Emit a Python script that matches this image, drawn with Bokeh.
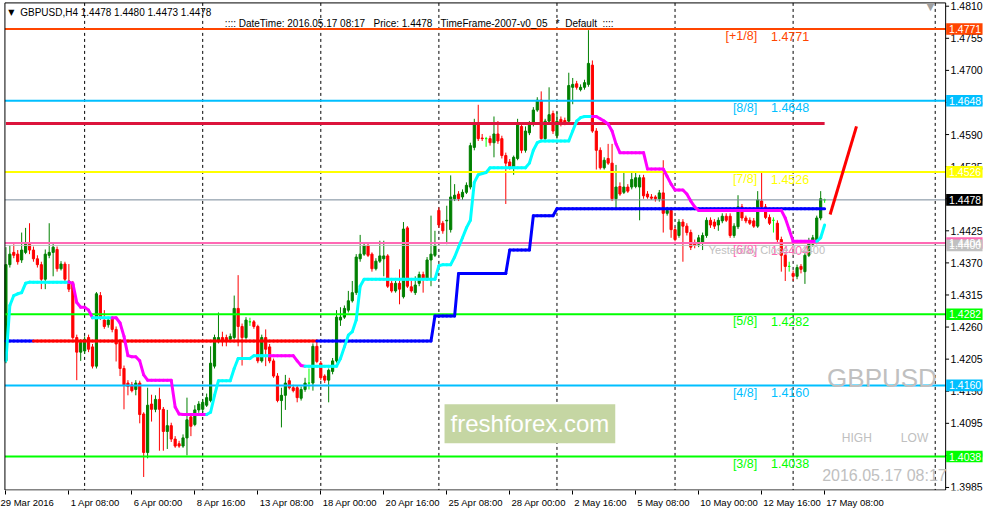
from bokeh.plotting import figure
from bokeh.models import Range1d, FixedTicker, Label
from bokeh.core.properties import value
from bokeh.embed import file_html
from bokeh.resources import INLINE

# ---------------- data ----------------
symbol = "GBPUSD"
timeframe = "H4"
chart_time = "2016.05.17 08:17"

open_ = [
1.4202, 1.4367, 1.4388, 1.4385, 1.4375, 1.4388, 1.4402, 1.4392, 1.4377, 1.4367,
1.4342, 1.4383, 1.4388, 1.4393, 1.4360, 1.4368, 1.4339, 1.4334, 1.4242, 1.4217,
1.4219, 1.4242, 1.4226, 1.4193, 1.4314, 1.4272, 1.4264, 1.4276, 1.4256, 1.4234,
1.4189, 1.4164, 1.4161, 1.4153, 1.4164, 1.4111, 1.4045, 1.4128, 1.4119, 1.4136,
1.4119, 1.4081, 1.4091, 1.4068, 1.4060, 1.4056, 1.4070, 1.4106, 1.4093, 1.4118,
1.4119, 1.4126, 1.4134, 1.4193, 1.4236, 1.4242, 1.4242, 1.4239, 1.4242, 1.4292,
1.4261, 1.4242, 1.4269, 1.4269, 1.4261, 1.4202, 1.4242, 1.4226, 1.4202, 1.4176,
1.4134, 1.4143, 1.4168, 1.4156, 1.4156, 1.4138, 1.4153, 1.4164, 1.4164, 1.4227,
1.4198, 1.4176, 1.4169, 1.4184, 1.4202, 1.4272, 1.4277, 1.4289, 1.4305, 1.4319,
1.4377, 1.4385, 1.4400, 1.4385, 1.4360, 1.4373, 1.4377, 1.4382, 1.4335, 1.4322,
1.4335, 1.4312, 1.4430, 1.4329, 1.4319, 1.4335, 1.4350, 1.4342, 1.4375, 1.4383,
1.4460, 1.4438, 1.4442, 1.4427, 1.4480, 1.4488, 1.4483, 1.4491, 1.4500, 1.4568,
1.4608, 1.4584, 1.4583, 1.4583, 1.4576, 1.4591, 1.4583, 1.4554, 1.4543, 1.4534,
1.4549, 1.4604, 1.4563, 1.4593, 1.4608, 1.4632, 1.4649, 1.4583, 1.4613, 1.4626,
1.4588, 1.4616, 1.4614, 1.4613, 1.4671, 1.4677, 1.4667, 1.4671, 1.4676, 1.4709,
1.4596, 1.4563, 1.4533, 1.4549, 1.4541, 1.4480, 1.4501, 1.4491, 1.4500, 1.4500,
1.4501, 1.4500, 1.4516, 1.4488, 1.4483, 1.4483, 1.4480, 1.4490, 1.4455, 1.4460,
1.4427, 1.4417, 1.4440, 1.4433, 1.4422, 1.4405, 1.4402, 1.4405, 1.4417, 1.4443,
1.4440, 1.4435, 1.4442, 1.4450, 1.4450, 1.4417, 1.4432, 1.4466, 1.4447, 1.4443,
1.4442, 1.4433, 1.4476, 1.4466, 1.4448, 1.4443, 1.4438, 1.4410, 1.4383, 1.4364,
1.4352, 1.4347, 1.4364, 1.4355, 1.4383, 1.4402, 1.4405, 1.4447, 1.4478]

high = [
1.4397, 1.4400, 1.4402, 1.4392, 1.4422, 1.4430, 1.4438, 1.4398, 1.4383, 1.4372,
1.4393, 1.4438, 1.4405, 1.4398, 1.4373, 1.4372, 1.4368, 1.4339, 1.4247, 1.4239,
1.4244, 1.4247, 1.4231, 1.4320, 1.4320, 1.4289, 1.4277, 1.4279, 1.4261, 1.4239,
1.4194, 1.4169, 1.4166, 1.4169, 1.4168, 1.4114, 1.4156, 1.4144, 1.4143, 1.4156,
1.4123, 1.4118, 1.4096, 1.4073, 1.4065, 1.4076, 1.4139, 1.4111, 1.4126, 1.4133,
1.4136, 1.4146, 1.4227, 1.4247, 1.4285, 1.4252, 1.4247, 1.4249, 1.4314, 1.4349,
1.4266, 1.4277, 1.4276, 1.4272, 1.4264, 1.4247, 1.4256, 1.4231, 1.4206, 1.4181,
1.4156, 1.4178, 1.4173, 1.4161, 1.4159, 1.4158, 1.4173, 1.4189, 1.4232, 1.4239,
1.4202, 1.4179, 1.4189, 1.4207, 1.4289, 1.4294, 1.4297, 1.4322, 1.4339, 1.4385,
1.4418, 1.4405, 1.4405, 1.4388, 1.4378, 1.4408, 1.4408, 1.4385, 1.4339, 1.4339,
1.4359, 1.4440, 1.4433, 1.4339, 1.4347, 1.4355, 1.4355, 1.4380, 1.4451, 1.4425,
1.4465, 1.4442, 1.4468, 1.4520, 1.4505, 1.4493, 1.4496, 1.4508, 1.4576, 1.4617,
1.4641, 1.4591, 1.4586, 1.4588, 1.4621, 1.4613, 1.4588, 1.4559, 1.4548, 1.4554,
1.4617, 1.4609, 1.4604, 1.4613, 1.4637, 1.4654, 1.4664, 1.4617, 1.4671, 1.4631,
1.4629, 1.4621, 1.4619, 1.4696, 1.4687, 1.4682, 1.4676, 1.4684, 1.4769, 1.4717,
1.4601, 1.4568, 1.4551, 1.4574, 1.4574, 1.4538, 1.4508, 1.4525, 1.4505, 1.4526,
1.4526, 1.4521, 1.4521, 1.4493, 1.4488, 1.4486, 1.4495, 1.4546, 1.4466, 1.4465,
1.4432, 1.4445, 1.4445, 1.4438, 1.4427, 1.4410, 1.4418, 1.4422, 1.4448, 1.4448,
1.4445, 1.4448, 1.4455, 1.4455, 1.4455, 1.4438, 1.4486, 1.4471, 1.4451, 1.4448,
1.4447, 1.4493, 1.4526, 1.4471, 1.4453, 1.4448, 1.4443, 1.4415, 1.4388, 1.4372,
1.4357, 1.4367, 1.4368, 1.4388, 1.4413, 1.4418, 1.4451, 1.4493, 1.4480]

low = [
1.4198, 1.4362, 1.4378, 1.4367, 1.4370, 1.4385, 1.4385, 1.4372, 1.4362, 1.4325,
1.4325, 1.4378, 1.4347, 1.4355, 1.4357, 1.4337, 1.4320, 1.4239, 1.4169, 1.4202,
1.4214, 1.4217, 1.4189, 1.4189, 1.4272, 1.4257, 1.4259, 1.4251, 1.4201, 1.4176,
1.4119, 1.4143, 1.4148, 1.4143, 1.4095, 1.4003, 1.4035, 1.4098, 1.4114, 1.4048,
1.4048, 1.4051, 1.4063, 1.4053, 1.4053, 1.4053, 1.4040, 1.4073, 1.4090, 1.4113,
1.4114, 1.4123, 1.4131, 1.4189, 1.4232, 1.4227, 1.4227, 1.4236, 1.4239, 1.4227,
1.4194, 1.4239, 1.4262, 1.4257, 1.4198, 1.4199, 1.4193, 1.4198, 1.4173, 1.4131,
1.4088, 1.4118, 1.4153, 1.4148, 1.4131, 1.4134, 1.4149, 1.4153, 1.4151, 1.4198,
1.4169, 1.4164, 1.4131, 1.4179, 1.4199, 1.4262, 1.4274, 1.4285, 1.4302, 1.4315,
1.4372, 1.4382, 1.4380, 1.4355, 1.4357, 1.4370, 1.4347, 1.4327, 1.4319, 1.4319,
1.4299, 1.4309, 1.4327, 1.4319, 1.4315, 1.4330, 1.4319, 1.4339, 1.4330, 1.4380,
1.4430, 1.4420, 1.4402, 1.4422, 1.4476, 1.4476, 1.4478, 1.4488, 1.4496, 1.4563,
1.4579, 1.4579, 1.4569, 1.4571, 1.4551, 1.4574, 1.4549, 1.4471, 1.4530, 1.4521,
1.4546, 1.4558, 1.4559, 1.4589, 1.4604, 1.4629, 1.4579, 1.4579, 1.4609, 1.4591,
1.4583, 1.4604, 1.4606, 1.4609, 1.4642, 1.4667, 1.4664, 1.4667, 1.4672, 1.4593,
1.4530, 1.4530, 1.4530, 1.4538, 1.4476, 1.4463, 1.4485, 1.4488, 1.4490, 1.4496,
1.4498, 1.4443, 1.4480, 1.4480, 1.4478, 1.4475, 1.4475, 1.4422, 1.4451, 1.4413,
1.4407, 1.4413, 1.4372, 1.4417, 1.4392, 1.4395, 1.4397, 1.4392, 1.4413, 1.4430,
1.4428, 1.4425, 1.4438, 1.4440, 1.4413, 1.4413, 1.4428, 1.4442, 1.4438, 1.4435,
1.4430, 1.4430, 1.4463, 1.4445, 1.4435, 1.4422, 1.4405, 1.4355, 1.4339, 1.4355,
1.4339, 1.4342, 1.4352, 1.4334, 1.4380, 1.4398, 1.4402, 1.4443, 1.4473]

close = [
1.4367, 1.4385, 1.4383, 1.4372, 1.4392, 1.4402, 1.4392, 1.4377, 1.4367, 1.4342,
1.4385, 1.4388, 1.4397, 1.4360, 1.4368, 1.4342, 1.4325, 1.4242, 1.4217, 1.4234,
1.4239, 1.4222, 1.4193, 1.4317, 1.4277, 1.4261, 1.4272, 1.4256, 1.4231, 1.4189,
1.4161, 1.4158, 1.4151, 1.4164, 1.4110, 1.4045, 1.4126, 1.4119, 1.4136, 1.4119,
1.4081, 1.4091, 1.4068, 1.4056, 1.4056, 1.4070, 1.4101, 1.4090, 1.4118, 1.4128,
1.4131, 1.4139, 1.4198, 1.4242, 1.4242, 1.4236, 1.4236, 1.4244, 1.4292, 1.4261,
1.4242, 1.4272, 1.4269, 1.4261, 1.4202, 1.4242, 1.4222, 1.4202, 1.4176, 1.4134,
1.4143, 1.4164, 1.4156, 1.4151, 1.4139, 1.4153, 1.4164, 1.4164, 1.4227, 1.4201,
1.4173, 1.4169, 1.4186, 1.4202, 1.4277, 1.4277, 1.4292, 1.4305, 1.4319, 1.4380,
1.4385, 1.4400, 1.4383, 1.4360, 1.4373, 1.4382, 1.4382, 1.4330, 1.4322, 1.4335,
1.4325, 1.4428, 1.4330, 1.4322, 1.4332, 1.4350, 1.4342, 1.4375, 1.4385, 1.4400,
1.4435, 1.4425, 1.4443, 1.4483, 1.4486, 1.4480, 1.4491, 1.4503, 1.4571, 1.4608,
1.4583, 1.4583, 1.4583, 1.4576, 1.4591, 1.4579, 1.4554, 1.4541, 1.4534, 1.4551,
1.4608, 1.4563, 1.4596, 1.4608, 1.4632, 1.4649, 1.4583, 1.4613, 1.4624, 1.4596,
1.4613, 1.4609, 1.4609, 1.4674, 1.4676, 1.4671, 1.4671, 1.4679, 1.4712, 1.4596,
1.4563, 1.4533, 1.4546, 1.4541, 1.4480, 1.4500, 1.4488, 1.4500, 1.4493, 1.4513,
1.4516, 1.4516, 1.4485, 1.4483, 1.4481, 1.4480, 1.4490, 1.4455, 1.4460, 1.4427,
1.4410, 1.4440, 1.4433, 1.4422, 1.4397, 1.4400, 1.4413, 1.4417, 1.4443, 1.4435,
1.4433, 1.4443, 1.4450, 1.4443, 1.4417, 1.4433, 1.4466, 1.4447, 1.4442, 1.4438,
1.4433, 1.4478, 1.4466, 1.4448, 1.4438, 1.4443, 1.4410, 1.4383, 1.4364, 1.4364,
1.4347, 1.4362, 1.4359, 1.4383, 1.4408, 1.4413, 1.4447, 1.4480, 1.4478]

# fast trailing line (cyan = up, magenta = down)
fast_line = [
1.4202, 1.4297, 1.4314, 1.4317, 1.4319, 1.4335, 1.4337, 1.4337, 1.4337, 1.4337,
1.4337, 1.4337, 1.4337, 1.4337, 1.4337, 1.4337, 1.4337, 1.4335, 1.4302, 1.4294,
1.4294, 1.4289, 1.4276, 1.4276, 1.4276, 1.4276, 1.4276, 1.4276, 1.4276, 1.4267,
1.4244, 1.4211, 1.4209, 1.4209, 1.4202, 1.4178, 1.4169, 1.4169, 1.4169, 1.4169,
1.4169, 1.4169, 1.4169, 1.4123, 1.4111, 1.4110, 1.4110, 1.4110, 1.4110, 1.4110,
1.4110, 1.4110, 1.4114, 1.4143, 1.4168, 1.4168, 1.4168, 1.4168, 1.4189, 1.4206,
1.4206, 1.4206, 1.4206, 1.4211, 1.4211, 1.4211, 1.4211, 1.4211, 1.4211, 1.4211,
1.4211, 1.4211, 1.4211, 1.4211, 1.4202, 1.4194, 1.4193, 1.4193, 1.4193, 1.4193,
1.4193, 1.4193, 1.4193, 1.4193, 1.4193, 1.4206, 1.4226, 1.4246, 1.4252, 1.4272,
1.4330, 1.4342, 1.4342, 1.4342, 1.4342, 1.4342, 1.4342, 1.4342, 1.4342, 1.4342,
1.4342, 1.4342, 1.4342, 1.4342, 1.4342, 1.4342, 1.4342, 1.4342, 1.4342, 1.4342,
1.4365, 1.4367, 1.4367, 1.4367, 1.4380, 1.4397, 1.4413, 1.4430, 1.4443, 1.4508,
1.4521, 1.4523, 1.4525, 1.4533, 1.4533, 1.4533, 1.4533, 1.4533, 1.4533, 1.4533,
1.4533, 1.4533, 1.4533, 1.4541, 1.4563, 1.4576, 1.4579, 1.4579, 1.4579, 1.4579,
1.4579, 1.4579, 1.4579, 1.4579, 1.4596, 1.4613, 1.4619, 1.4621, 1.4621, 1.4621,
1.4621, 1.4617, 1.4613, 1.4608, 1.4596, 1.4574, 1.4559, 1.4559, 1.4559, 1.4559,
1.4559, 1.4559, 1.4559, 1.4531, 1.4531, 1.4531, 1.4531, 1.4531, 1.4518, 1.4505,
1.4495, 1.4495, 1.4495, 1.4488, 1.4476, 1.4466, 1.4460, 1.4460, 1.4460, 1.4460,
1.4460, 1.4460, 1.4460, 1.4460, 1.4460, 1.4460, 1.4460, 1.4460, 1.4460, 1.4460,
1.4460, 1.4460, 1.4460, 1.4460, 1.4460, 1.4460, 1.4460, 1.4460, 1.4447, 1.4427,
1.4407, 1.4407, 1.4407, 1.4407, 1.4407, 1.4407, 1.4407, 1.4413, 1.4435]
# (first bar, last bar, direction) of each colour run of the fast line
fast_runs = [(0, 16, 1), (17, 22, -1), (23, 27, 1), (28, 51, -1), (52, 67, 1),
             (68, 76, -1), (77, 149, 1), (150, 206, -1), (207, 208, 1)]

# slow step line: (first bar, last bar, level, direction)
slow_runs = [(0, 7, 1.4236, 1), (8, 79, 1.4236, -1), (80, 108, 1.4236, 1),
             (109, 114, 1.4279, 1), (115, 127, 1.4352, 1), (128, 133, 1.4392, 1),
             (134, 139, 1.4451, 1), (140, 208, 1.4463, 1)]

# Murrey math levels
murrey_names = ["[+1/8]", "[8/8]", "[7/8]", "[6/8]", "[5/8]", "[4/8]", "[3/8]"]
murrey_levels = [1.4771, 1.4648, 1.4526, 1.4404, 1.4282, 1.4160, 1.4038]
murrey_colors = ["#FF4500", "#00BFFF", "#FFFF00", "#FF69B4", "#00FF00", "#00BFFF", "#00FF00"]

yesterday_close = 1.4400
bid_price = 1.4478
crimson_level = 1.4609
crimson_bars = [0, 208]
forecast_bars = [209.4, 216.1]
forecast_prices = [1.4453, 1.4604]

price_ticks = [1.4810, 1.4755, 1.4700, 1.4645, 1.4590, 1.4535, 1.4480, 1.4425,
               1.4370, 1.4315, 1.4260, 1.4205, 1.4150, 1.4095, 1.4040, 1.3985]
tick_bars = [0, 16, 32, 48, 64, 80, 96, 112, 128, 144, 160, 176, 192, 208]
time_labels = ["29 Mar 2016", "1 Apr 08:00", "6 Apr 00:00", "8 Apr 16:00", "13 Apr 08:00",
               "18 Apr 00:00", "20 Apr 16:00", "25 Apr 08:00", "28 Apr 00:00", "2 May 16:00",
               "5 May 08:00", "10 May 00:00", "12 May 16:00", "17 May 08:00"]
grid_bars = [20, 50, 80, 110, 140, 170, 200, 236.1]

# ---------------- layout helpers (reference pixel -> data) ----------------
def xd(px):
    return (px - 5.5) / 4.0

def yd(py):
    return 1.48198 - py / 6024.0

def dpx(k):
    return k / 6024.0

FONT = "Liberation Sans"
n = min(len(open_), len(high), len(low), len(close), len(fast_line))
bars = list(range(n))
O, Hh, L, C = open_[:n], high[:n], low[:n], close[:n]

XL, XR = xd(4.5), xd(960.5)     # chart frame edges
YT, YB = yd(2.5), yd(505.5)

p = figure(width=985, height=513, output_backend="svg", toolbar_location=None,
           x_range=Range1d(xd(0), xd(1001)), y_range=Range1d(yd(506), yd(0)),
           min_border_left=0, min_border_right=0, min_border_top=0, min_border_bottom=23,
           background_fill_color="white", border_fill_color="white")
p.grid.visible = False
p.outline_line_color = None
p.yaxis.visible = False

# bottom time axis: ticks at bar positions, labels start at the tick (MT4 style)
EM = {' ': 0.278, ':': 0.278, 'A': 0.667, 'M': 0.833, 'a': 0.556, 'p': 0.556, 'r': 0.333, 'y': 0.5}
DATE_FS = 9.5
NBSP_W = 0.278 * DATE_FS
def left_aligned(txt, gap=2.0):
    w = sum(EM.get(ch, 0.556) for ch in txt) * DATE_FS
    k = int(round((w + 2 * gap) / NBSP_W))
    return "\u00a0" * k + txt

overrides = {}
for i, (tb, s) in enumerate(zip(tick_bars, time_labels)):
    # the first label is pushed against the left edge by the axis itself
    overrides[tb] = s if i == 0 else left_aligned(s)

xa = p.xaxis[0]
xa.ticker = FixedTicker(ticks=tick_bars)
xa.major_label_overrides = overrides
xa.major_tick_out = 4
xa.major_tick_in = 0
xa.minor_tick_line_color = None
xa.axis_line_color = None
xa.major_tick_line_color = "black"
xa.major_label_standoff = 2
xa.major_label_text_font = FONT
xa.major_label_text_font_size = "%.1fpx" % DATE_FS
xa.major_label_text_color = "black"

# vertical dashed separators
p.segment(x0=grid_bars, x1=grid_bars, y0=[YT] * len(grid_bars), y1=[YB] * len(grid_bars),
          line_color="black", line_dash="3 3", line_width=1)

# candles
cols = ["#008000" if c > o else ("#FF0000" if c < o else "#00FF00") for o, c in zip(O, C)]
p.segment(x0=bars, y0=L, x1=bars, y1=Hh, line_color=cols, line_width=1)
p.vbar(x=bars, width=0.55, top=[max(o, c) for o, c in zip(O, C)],
       bottom=[min(o, c) for o, c in zip(O, C)], fill_color=cols, line_color=cols, line_width=1)

# horizontal levels (across the chart up to the price scale)
m = len(murrey_levels)
p.segment(x0=[XL] * m, x1=[XR] * m, y0=murrey_levels, y1=murrey_levels,
          line_color=murrey_colors, line_width=2)
p.segment(x0=[XL], x1=[XR], y0=[yesterday_close], y1=[yesterday_close], line_color="#C0C0C0", line_width=1)
p.segment(x0=[XL], x1=[XR], y0=[bid_price], y1=[bid_price], line_color="#778899", line_width=1)
p.line(x=crimson_bars, y=[crimson_level, crimson_level], line_color="#DC143C", line_width=3)

# slow step line
slow_val, slow_dir = [], []
for a, b, lv, d in slow_runs:
    for i in range(a, b + 1):
        slow_val.append(lv)
        slow_dir.append(d)
slow_val, slow_dir = slow_val[:n], slow_dir[:n]
p.segment(x0=bars[:-1], y0=slow_val[:-1], x1=bars[1:], y1=slow_val[1:],
          line_color=["#0000FF" if d > 0 else "#FF0000" for d in slow_dir[1:]],
          line_width=3, line_cap="round")

# fast trailing line
fast_dir = []
for a, b, d in fast_runs:
    fast_dir.extend([d] * (b - a + 1))
fast_dir = fast_dir[:n]
fv = fast_line[:n]
p.segment(x0=bars[:-1], y0=fv[:-1], x1=bars[1:], y1=fv[1:],
          line_color=["#00FFFF" if d > 0 else "#FF00FF" for d in fast_dir[1:]],
          line_width=3, line_cap="round")

# forecast line
p.line(x=forecast_bars, y=forecast_prices, line_color="#FF0000", line_width=3)

# level texts
p.text(x=[xd(769)] * m, y=[v - dpx(7.5) for v in murrey_levels],
       text=murrey_names, text_align="right", text_baseline="middle",
       text_color=murrey_colors, text_font=value(FONT), text_font_size="12.5px")
p.text(x=[xd(783)] * m, y=[v - dpx(7.5) for v in murrey_levels],
       text=["%.4f" % v for v in murrey_levels], text_align="left", text_baseline="middle",
       text_color=murrey_colors, text_font=value(FONT), text_font_size="12.5px")
p.text(x=[xd(838)], y=[yesterday_close - dpx(5)], text=["Yesterday Close %.4f" % yesterday_close],
       text_align="right", text_baseline="middle", text_color="#C0C0C0",
       text_font=value(FONT), text_font_size="11px")

# chart border
p.segment(x0=[XL, XL, XL, XR], x1=[XR, XR, XL, XR], y0=[YT, YB, YT, YT], y1=[YT, YB, YB, YB],
          line_color="black", line_width=1)

# right price scale
k = len(price_ticks)
p.segment(x0=[XR] * k, x1=[xd(964)] * k, y0=price_ticks, y1=price_ticks, line_color="black", line_width=1)
p.text(x=[xd(965.5)] * k, y=price_ticks, text=["%.4f" % t for t in price_ticks],
       text_align="left", text_baseline="middle", text_color="black",
       text_font=value(FONT), text_font_size="10.5px")

# price tags on the scale
tag_vals = [murrey_levels[0], murrey_levels[1], murrey_levels[2], bid_price, murrey_levels[3],
            yesterday_close, murrey_levels[4], murrey_levels[5], murrey_levels[6]]
tag_cols = [murrey_colors[0], murrey_colors[1], murrey_colors[2], "#000000", murrey_colors[3],
            "#C0C0C0", murrey_colors[4], murrey_colors[5], murrey_colors[6]]
t = len(tag_vals)
p.quad(left=[xd(961)] * t, right=[xd(998)] * t, top=[v + dpx(6) for v in tag_vals],
       bottom=[v - dpx(6) for v in tag_vals], fill_color=tag_cols, line_color=None)
p.text(x=[xd(964)] * t, y=tag_vals, text=["%.4f" % v for v in tag_vals],
       text_align="left", text_baseline="middle", text_color="white",
       text_font=value(FONT), text_font_size="10.5px")

# header texts
p.add_layout(Label(x=xd(8), y=yd(12), text="\u25BC", text_align="left", text_baseline="middle",
                   text_color="black", text_font="DejaVu Sans", text_font_size="8px"))
p.add_layout(Label(x=xd(20), y=yd(12),
                   text="%s,%s  %.4f %.4f %.4f %.4f" % (symbol, timeframe, O[-1], Hh[-1], L[-1], C[-1]),
                   text_align="left", text_baseline="middle", text_color="black",
                   text_font=FONT, text_font_size="10px"))
p.add_layout(Label(x=xd(228), y=yd(24),
                   text=":::: DateTime: %s\u00a0\u00a0 Price: %.4f\u00a0\u00a0 TimeFrame-2007-v0_05\u00a0\u00a0 *\u00a0 Default\u00a0 ::::" % (chart_time, bid_price),
                   text_align="left", text_baseline="middle", text_color="black",
                   text_font=FONT, text_font_size="10px"))
p.add_layout(Label(x=xd(945), y=yd(6), text="\u25BC", text_align="center", text_baseline="middle",
                   text_color="#A0A0A0", text_font="DejaVu Sans", text_font_size="11px"))

# right-side watermark texts
p.add_layout(Label(x=xd(840), y=yd(390), text=symbol, text_align="left", text_baseline="middle",
                   text_color="#C0C0C0", text_font=FONT, text_font_size="26px"))
p.add_layout(Label(x=xd(855), y=yd(452), text="HIGH", text_align="left", text_baseline="middle",
                   text_color="#C0C0C0", text_font=FONT, text_font_size="12px"))
p.add_layout(Label(x=xd(915), y=yd(452), text="LOW", text_align="left", text_baseline="middle",
                   text_color="#C0C0C0", text_font=FONT, text_font_size="12px"))
p.add_layout(Label(x=xd(835), y=yd(490), text=chart_time, text_align="left", text_baseline="middle",
                   text_color="#C0C0C0", text_font=FONT, text_font_size="16px"))
p.add_layout(Label(x=xd(538), y=yd(437), text="freshforex.com", text_align="center", text_baseline="middle",
                   text_color="white", text_font=FONT, text_font_size="24px",
                   background_fill_color="#C5D6A3", padding=6))

open("out.html", "w").write(file_html(p, INLINE))
